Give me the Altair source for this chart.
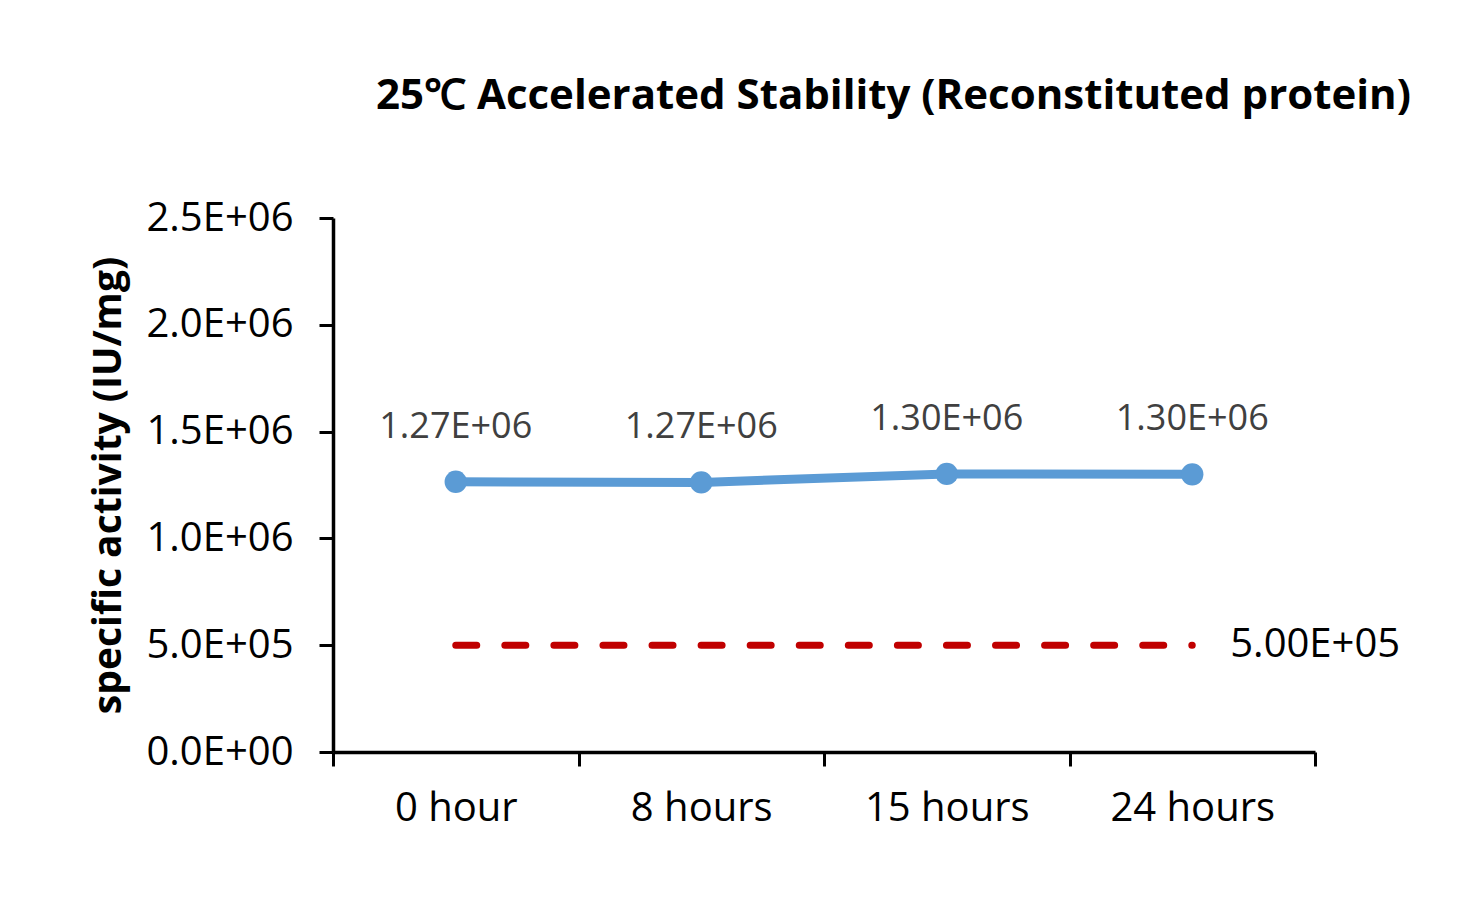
import altair as alt
import pandas as pd

categories = ["0 hour", "8 hours", "15 hours", "24 hours"]
activity = [1.265e6, 1.262e6, 1.302e6, 1.300e6]
point_labels = ["1.27E+06", "1.27E+06", "1.30E+06", "1.30E+06"]
threshold_value = 5.0e5
threshold_label = "5.00E+05"
y_ticks = [0, 5e5, 1e6, 1.5e6, 2e6, 2.5e6]
y_tick_labels = ["0.0E+00", "5.0E+05", "1.0E+06", "1.5E+06", "2.0E+06", "2.5E+06"]

FONT = "Open Sans"

df = pd.DataFrame({"time": categories, "activity": activity, "label": point_labels})
thr = pd.DataFrame({"time": categories, "value": [threshold_value] * len(categories)})
thr_lab = pd.DataFrame({"time": [categories[-1]], "value": [threshold_value], "label": [threshold_label]})

label_expr = ""
for v, l in zip(y_ticks, y_tick_labels):
    label_expr += f"datum.value == {v} ? '{l}' : "
label_expr += "''"

x_enc = alt.X(
    "time:N",
    sort=categories,
    scale=alt.Scale(type="band", paddingInner=0, paddingOuter=0),
    axis=alt.Axis(
        title=None,
        labelAngle=0,
        tickBand="extent",
        bandPosition=0.5,
        labelAlign="center",
        labelBaseline="top",
        domainColor="black",
        domainWidth=3.5,
        tickColor="black",
        tickWidth=3,
        tickSize=14,
        labelFontSize=40,
        labelFont=FONT,
        labelColor="black",
        labelPadding=22,
        grid=False,
    ),
)
y_scale = alt.Scale(domain=[0, 2.5e6], nice=False, zero=True)
y_enc = alt.Y(
    "activity:Q",
    scale=y_scale,
    axis=alt.Axis(
        title="specific activity (IU/mg)",
        titleFont=FONT,
        titleFontSize=39,
        titleFontWeight="bold",
        titleColor="black",
        titleX=-225,
        titleY=267,
        titleAngle=-90,
        titleAlign="center",
        titleBaseline="middle",
        values=y_ticks,
        labelExpr=label_expr,
        labelFontSize=40,
        labelFont=FONT,
        labelColor="black",
        labelPadding=26,
        domainColor="black",
        domainWidth=3.5,
        tickColor="black",
        tickWidth=3,
        tickSize=14,
        grid=False,
    ),
)

base = alt.Chart(df)
line = base.mark_line(color="#5B9BD5", strokeWidth=9).encode(x=x_enc, y=y_enc)
pts = base.mark_circle(color="#5B9BD5", size=500, opacity=1).encode(x=x_enc, y=y_enc)
labels = base.mark_text(
    font=FONT, fontSize=36, color="#404040", dy=-55, align="center", baseline="middle"
).encode(x=x_enc, y=y_enc, text="label:N")

thr_line = alt.Chart(thr).mark_line(
    color="#C00000", strokeWidth=7, strokeDash=[21, 28.07], strokeCap="round"
).encode(x=alt.X("time:N", sort=categories), y=alt.Y("value:Q", scale=y_scale))
thr_text = alt.Chart(thr_lab).mark_text(
    font=FONT, fontSize=40, color="black", align="left", baseline="middle", dx=38
).encode(x=alt.X("time:N", sort=categories), y=alt.Y("value:Q", scale=y_scale), text="label:N")

chart = (
    alt.layer(thr_line, line, pts, labels, thr_text)
    .properties(
        width=982,
        height=534,
        background="white",
        padding={"left": 333, "top": 218, "right": 142, "bottom": 145},
        autosize=alt.AutoSizeParams(type="none"),
        title=alt.TitleParams(
            text="25℃ Accelerated Stability (Reconstituted protein)",
            font=FONT,
            fontSize=42,
            fontWeight="bold",
            color="black",
            anchor="start",
            frame="group",
            dx=43,
            offset=80,
        ),
    )
    .configure_view(strokeWidth=0, stroke="transparent")
)

chart.save("out.html", embed_options={"renderer": "svg", "actions": False})
